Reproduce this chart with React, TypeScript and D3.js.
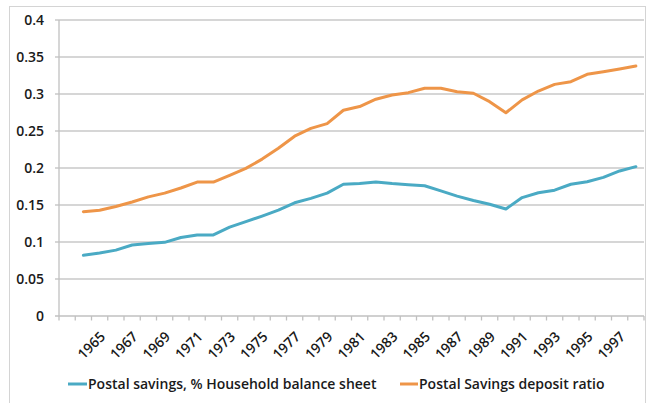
import React from "react";
import * as d3 from "d3";

const categories: string[] = [
  "", "1964", "1965", "1966", "1967", "1968", "1969", "1970", "1971", "1972", "1973",
  "1974", "1975", "1976", "1977", "1978", "1979", "1980", "1981", "1982", "1983",
  "1984", "1985", "1986", "1987", "1988", "1989", "1990", "1991", "1992", "1993",
  "1994", "1995", "1996", "1997", "1998",
];

const dataYears: string[] = [
  "1964", "1965", "1966", "1967", "1968", "1969", "1970", "1971", "1972", "1973",
  "1974", "1975", "1976", "1977", "1978", "1979", "1980", "1981", "1982", "1983",
  "1984", "1985", "1986", "1987", "1988", "1989", "1990", "1991", "1992", "1993",
  "1994", "1995", "1996", "1997", "1998",
];

const householdShare: number[] = [
  0.082, 0.085, 0.089, 0.096, 0.098, 0.0995, 0.106, 0.1095, 0.1095, 0.12,
  0.1275, 0.135, 0.143, 0.153, 0.159, 0.166, 0.178, 0.179, 0.181, 0.179,
  0.1775, 0.176, 0.169, 0.162, 0.156, 0.151, 0.1446, 0.16, 0.1666, 0.17,
  0.178, 0.1815, 0.1874, 0.196, 0.2018,
];

const depositRatio: number[] = [
  0.141, 0.143, 0.148, 0.154, 0.161, 0.166, 0.173, 0.181, 0.181, 0.19,
  0.1995, 0.212, 0.2266, 0.243, 0.2536, 0.26, 0.278, 0.283, 0.293, 0.2986,
  0.3018, 0.3077, 0.3077, 0.3031, 0.301, 0.2896, 0.2747, 0.292, 0.304, 0.313,
  0.3166, 0.3266, 0.33, 0.3338, 0.3378,
];

const yTicks: number[] = [0, 0.05, 0.1, 0.15, 0.2, 0.25, 0.3, 0.35, 0.4];
const yTickLabels: string[] = ["0", "0.05", "0.1", "0.15", "0.2", "0.25", "0.3", "0.35", "0.4"];

const seriesNames: string[] = [
  "Postal savings, % Household balance sheet",
  "Postal Savings deposit ratio",
];
const seriesColors: string[] = ["#4aaac4", "#ee9548"];

const FONT = "'Open Sans', sans-serif";

export default function App() {
  const W = 650;
  const H = 403;
  const left = 59;
  const right = 644;
  const top = 20;
  const bottom = 316;

  const x = d3.scaleBand<string>().domain(categories).range([left, right]).padding(0);
  const y = d3.scaleLinear().domain([0, 0.4]).range([bottom, top]);
  const cx = (c: string) => (x(c) as number) + x.bandwidth() / 2;

  const line = d3
    .line<[string, number]>()
    .x((d) => cx(d[0]))
    .y((d) => y(d[1]));

  const series = [householdShare, depositRatio].map((vals) =>
    dataYears.map((yr, i) => [yr, vals[i]] as [string, number])
  );

  const tickXs = categories.map((c) => x(c) as number).concat([right]);

  return (
    <svg
      width={W}
      height={H}
      style={{ position: "absolute", left: 0, top: 0, background: "#fff" }}
      fontFamily={FONT}
    >
      <rect x={9.5} y={6.5} width={636} height={420} fill="none" stroke="#d4d4d4" strokeWidth={1} />
      {yTicks.map((t, i) => (
        <g key={"y" + i}>
          {i > 0 && (
            <line x1={55} x2={right} y1={y(t)} y2={y(t)} stroke="#c9c9c9" strokeWidth={1.3} />
          )}
          <text
            x={44}
            y={y(t)}
            dy="0.36em"
            textAnchor="end"
            fontSize={14}
            fontWeight={600}
            fill="#1a1a1a"
          >
            {yTickLabels[i]}
          </text>
        </g>
      ))}
      <line x1={left} x2={left} y1={top} y2={bottom} stroke="#c0c0c0" strokeWidth={1.3} />
      <line x1={55} x2={right} y1={bottom} y2={bottom} stroke="#c0c0c0" strokeWidth={1.3} />
      {tickXs.map((tx, i) => (
        <line key={"xt" + i} x1={tx} x2={tx} y1={bottom} y2={bottom + 4.5} stroke="#c0c0c0" strokeWidth={1.3} />
      ))}
      {categories.map((c, i) =>
        i % 2 === 0 && c !== "" ? (
          <text
            key={"xl" + i}
            transform={`translate(${cx(c) + 3},${bottom + 18}) rotate(-45)`}
            textAnchor="end"
            dy="0.35em"
            fontSize={14}
            fontWeight={600}
            fill="#1a1a1a"
          >
            {c}
          </text>
        ) : null
      )}
      {series.map((s, i) => (
        <path
          key={"s" + i}
          d={line(s) as string}
          fill="none"
          stroke={seriesColors[i]}
          strokeWidth={3}
          strokeLinejoin="round"
          strokeLinecap="round"
        />
      ))}
      <g>
        <line x1={68} x2={87} y1={384} y2={384} stroke={seriesColors[0]} strokeWidth={3} />
        <text x={88} y={384} dy="0.35em" fontSize={14} fontWeight={600} fill="#1a1a1a">
          {seriesNames[0]}
        </text>
        <line x1={400} x2={418} y1={384} y2={384} stroke={seriesColors[1]} strokeWidth={3} />
        <text x={419} y={384} dy="0.35em" fontSize={14} fontWeight={600} fill="#1a1a1a">
          {seriesNames[1]}
        </text>
      </g>
    </svg>
  );
}
